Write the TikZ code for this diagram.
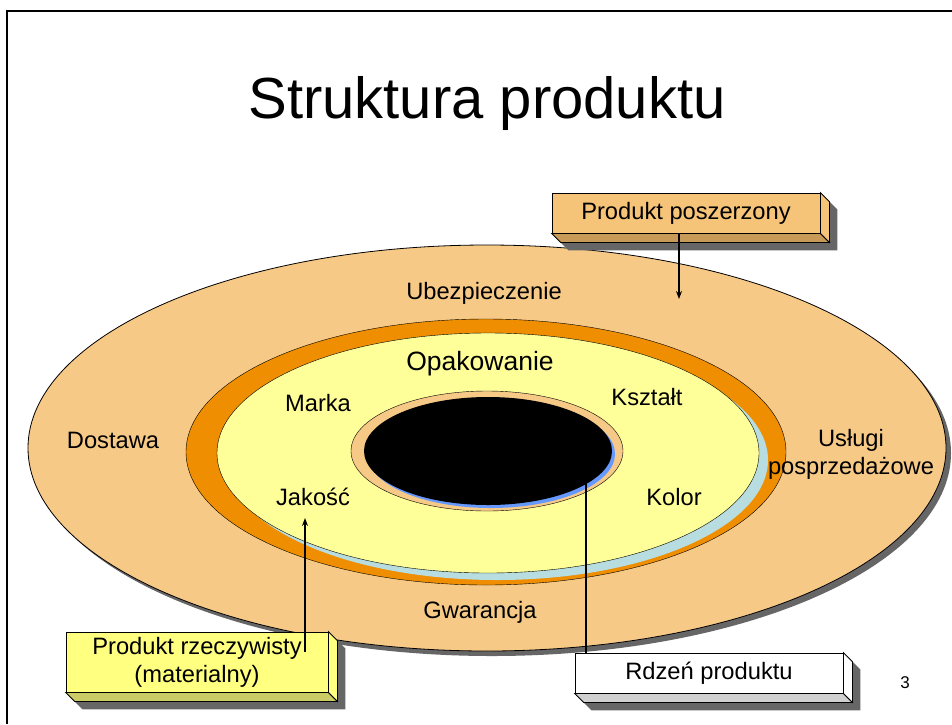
\documentclass[tikz,border=0pt]{standalone}
\usepackage{fontspec}
\setmainfont{Liberation Sans}
\usetikzlibrary{calc,arrows.meta}

\pgfdeclarelayer{ground}
\pgfdeclarelayer{shade}
\pgfsetlayers{ground,shade,main}

\definecolor{outertan}{HTML}{F7C987}
\definecolor{ringorange}{HTML}{EE8E00}
\definecolor{coreyellow}{HTML}{FFFF99}
\definecolor{paleblue}{HTML}{B7DDE0}
\definecolor{coreblue}{HTML}{6699FF}
\definecolor{shadowgray}{HTML}{666666}
\definecolor{tanfront}{HTML}{F6C479}
\definecolor{tanbottom}{HTML}{C89A58}
\definecolor{yellowfront}{HTML}{FFFF80}
\definecolor{yellowbottom}{HTML}{CCCC66}
\definecolor{graybottom}{HTML}{D0D0D0}

\tikzset{
  ringtext/.style={font=\fontsize{23.7}{28}\selectfont},
  bevelbox/.style={draw=black, line width=0.8pt, inner sep=0pt, align=center,
    minimum width=268pt, minimum height=40pt, font=\fontsize{23.7}{28}\selectfont},
  pointer/.style={line width=1.2pt, -{Stealth[length=8pt,width=6pt]}}
}

% side faces and shadow of a bevelled box
\newcommand{\bevelfaces}[3]{%
  \begin{pgfonlayer}{shade}
    \fill[shadowgray] ($(#1.north west)+(8,8)$) -- ($(#1.north east)+(8,8)$)
      -- ($(#1.north east)+(17,17)$) -- ($(#1.south east)+(17,17)$)
      -- ($(#1.south west)+(17,17)$) -- ($(#1.south west)+(8,8)$) -- cycle;
  \end{pgfonlayer}
  \draw[fill=#2, line width=0.8pt] (#1.south west) -- ($(#1.south west)+(9,9)$)
    -- ($(#1.south east)+(9,9)$) -- (#1.south east) -- cycle;
  \draw[fill=#3, line width=0.8pt] (#1.north east) -- ($(#1.north east)+(9,9)$)
    -- ($(#1.south east)+(9,9)$) -- (#1.south east) -- cycle;
}

\begin{document}
\begin{tikzpicture}[x=1pt, y=-1pt]
\useasboundingbox (0,0) rectangle (952,724);

% the rings
\begin{pgfonlayer}{ground}
\fill[white] (0,0) rectangle (952,724);
\fill[shadowgray] (492,453) ellipse [x radius=459, y radius=203];
\draw[fill=outertan, line width=0.8pt] (487,448) ellipse [x radius=459, y radius=203];
\draw[fill=ringorange] (486,452) ellipse [x radius=300, y radius=133];
\fill[paleblue] (497,460) ellipse [x radius=271, y radius=120];
\draw[fill=coreyellow] (488,453) ellipse [x radius=271, y radius=120];
\draw[fill=outertan] (487,451) ellipse [x radius=136, y radius=60];
\fill[coreblue] (491,454) ellipse [x radius=124, y radius=54];
\fill[black] (488,451) ellipse [x radius=124, y radius=54];
\end{pgfonlayer}

% slide frame
\draw[line width=2.5pt] (7,724) -- (7,11) -- (952,11);

\node[font=\fontsize{58}{64}\selectfont] (title) at (487,103) {Struktura produktu};

\node[ringtext] (ubezp) at (484,293) {Ubezpieczenie};
\node[font=\fontsize{26.5}{30}\selectfont] (opak) at (480,364) {Opakowanie};
\node[ringtext] (marka) at (318,403) {Marka};
\node[ringtext] (ksztalt) at (647,397) {Kształt};
\node[ringtext] (dostawa) at (113,440) {Dostawa};
\node[ringtext, align=center] (uslugi) at (851,454) {Usługi\\posprzedażowe};
\node[ringtext] (jakosc) at (313,497) {Jakość};
\node[ringtext] (kolor) at (674,497) {Kolor};
\node[ringtext] (gwarancja) at (480,612) {Gwarancja};

% boxes
\node[bevelbox, fill=tanfront] (poszerzony) at (686,213) {Produkt poszerzony};
\bevelfaces{poszerzony}{tanbottom}{tanfront}
\node[bevelbox, fill=yellowfront, minimum width=262pt, minimum height=60pt] (rzeczywisty) at (197,662) {Produkt rzeczywisty\\(materialny)};
\bevelfaces{rzeczywisty}{yellowbottom}{yellowfront}
\node[bevelbox, fill=white] (rdzen) at (709,673) {Rdzeń produktu};
\bevelfaces{rdzen}{graybottom}{white}

% connectors
\coordinate (poszTip) at (679,299);
\coordinate (jakoscTip) at (305,518);
\coordinate (rdzenTip) at (586,484);
\draw[pointer] (poszerzony.south -| poszTip) -- (poszTip);
\draw[pointer] ($(rzeczywisty.north -| jakoscTip)+(0,20)$) -- (jakoscTip);
\draw[line width=1.2pt] (rdzen.north -| rdzenTip) -- (rdzenTip);

\node[font=\fontsize{17}{20}\selectfont] (pagenum) at (905,683) {3};
\end{tikzpicture}
\end{document}
